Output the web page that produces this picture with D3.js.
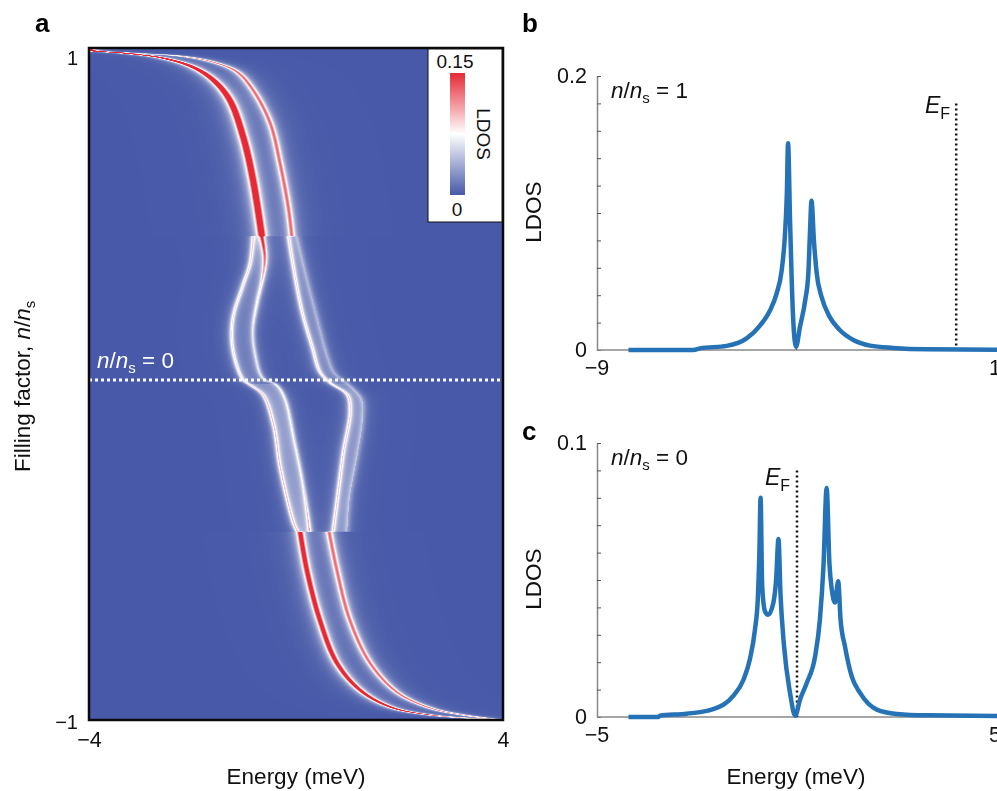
<!DOCTYPE html>
<html>
<head>
<meta charset="utf-8">
<script src="https://cdn.jsdelivr.net/npm/d3@7"></script>
<style>
  html, body { margin: 0; padding: 0; background: #fff; overflow: hidden; }
  #wrap { position: relative; width: 997px; height: 791px; }
  #wrap canvas { position: absolute; left: 89px; top: 48px; filter: blur(0.7px); }
  #wrap svg { position: absolute; left: 0; top: 0; font-family: "Liberation Sans", Arial, sans-serif; }
  .axis-b path { stroke: #888; stroke-width: 1.5; }
  .axis-b line { stroke: #555; }
</style>
</head>
<body>
<div id="wrap"></div>
<script>
// panel a: ridge positions, [filling, energy]
var ridgeTopLeft = [[1, -4.05], [0.994, -4], [0.985, -3.34], [0.97, -2.57], [0.943, -1.99], [0.905, -1.6], [0.845, -1.28], [0.735, -1.02], [0.607, -0.83], [0.44, -0.66]];
var ridgeTopRight = [[1, -4.05], [0.994, -4], [0.985, -3.21], [0.976, -2.24], [0.958, -1.6], [0.929, -1.14], [0.875, -0.83], [0.777, -0.5], [0.658, -0.31], [0.527, -0.15], [0.44, -0.08]];
var ridgeMidA = [[0.44, -0.83], [0.36, -0.89], [0.289, -1.04], [0.199, -1.22], [0.122, -1.24], [0.051, -1.14], [0.012, -1.02], [-0.003, -0.89], [-0.033, -0.64], [-0.122, -0.44], [-0.25, -0.31], [-0.411, -0.06], [-0.44, 0.02]];
var ridgeMidB = [[0.44, -0.66], [0.378, -0.6], [0.318, -0.64], [0.241, -0.75], [0.161, -0.83], [0.092, -0.79], [0.018, -0.64], [-0.003, -0.37], [-0.042, -0.21], [-0.173, -0.02], [-0.28, 0.12], [-0.39, 0.23], [-0.44, 0.27]];
var ridgeMidC = [[0.44, -0.15], [0.318, -0.02], [0.211, 0.12], [0.11, 0.31], [0.036, 0.46], [0.003, 0.66], [-0.033, 0.99], [-0.083, 1.04], [-0.202, 0.91], [-0.321, 0.81], [-0.44, 0.71]];
var ridgeMidD = [[0.44, 0.02], [0.318, 0.21], [0.199, 0.41], [0.08, 0.62], [0.033, 0.75], [-0.012, 1.1], [-0.048, 1.28], [-0.107, 1.29], [-0.202, 1.2], [-0.339, 1.04], [-0.44, 0.99]];
var ridgeBottomLeft = [[-0.44, 0.08], [-0.554, 0.21], [-0.702, 0.46], [-0.83, 0.79], [-0.911, 1.24], [-0.961, 1.82], [-0.985, 2.59], [-1, 4]];
var ridgeBottomRight = [[-0.44, 0.64], [-0.554, 0.79], [-0.702, 1.04], [-0.83, 1.43], [-0.917, 1.95], [-0.964, 2.59], [-0.985, 3.23], [-1, 4]];
// peak height along ridge B, it runs pink near the edges of the middle section
var midBPeak = [[0.44, 0.14], [0.3, 0.07], [0.15, 0.052], [-0.3, 0.052], [-0.44, 0.075]];

// panel b
var energyB = [-8.21, -6.58, -6.41, -5.74, -5.24, -4.9, -4.65, -4.49, -4.36, -4.28, -4.23, -4.2, -4.15, -4.11, -4.07, -4, -3.9, -3.77, -3.69, -3.65, -3.61, -3.55, -3.48, -3.36, -3.15, -2.9, -2.56, -2.14, -1.55, -0.72, 1.05];
var ldosB = [0, 0, 0.0012, 0.003, 0.0085, 0.018, 0.029, 0.041, 0.058, 0.083, 0.114, 0.151, 0.095, 0.053, 0.022, 0.0024, 0.017, 0.036, 0.056, 0.085, 0.109, 0.08, 0.056, 0.039, 0.024, 0.0146, 0.0073, 0.0032, 0.0015, 0.0005, 0.0002];

// panel c
var energyC = [-4.21, -3.46, -3.42, -2.75, -2.08, -1.57, -1.32, -1.16, -1.03, -0.96, -0.92, -0.89, -0.85, -0.78, -0.7, -0.57, -0.5, -0.44, -0.39, -0.3, -0.15, -0.02, 0.1, 0.27, 0.48, 0.6, 0.69, 0.77, 0.84, 0.9, 0.98, 1.06, 1.12, 1.23, 1.4, 1.61, 2.03, 2.53, 3.28, 5.05];
var ldosC = [0, 0, 0.0005, 0.0012, 0.0029, 0.0078, 0.0136, 0.021, 0.032, 0.043, 0.06, 0.08, 0.048, 0.0386, 0.0373, 0.0416, 0.05, 0.065, 0.045, 0.0258, 0.0088, 0.0005, 0.0063, 0.0124, 0.0221, 0.0355, 0.055, 0.0836, 0.056, 0.0465, 0.0418, 0.0495, 0.0355, 0.0258, 0.0148, 0.0088, 0.0027, 0.0011, 0.0006, 0.0004];

var colorStops = [0, 0.075, 0.15];
var colorValues = ['#4759a8', '#ffffff', '#e52a36'];

var svg = d3.select('#wrap').append('svg').attr('width', 997).attr('height', 791);
var defs = svg.append('defs');

// panel a scales
var xA = d3.scaleLinear().domain([-4, 4]).range([89, 503]);
var yA = d3.scaleLinear().domain([1, -1]).range([48, 720]);
var colorScale = d3.scaleLinear().domain(colorStops).range(colorValues).clamp(true);

// catmull-rom through the read points, sampled so a row can look up its energy
function ridgeFn(points) {
  var ridgeLine = d3.line().curve(d3.curveCatmullRom.alpha(0.5))
    .x(function (d) { return xA(d[1]); })
    .y(function (d) { return yA(d[0]); });
  var path = defs.append('path').attr('d', ridgeLine(points)).node();
  var len = path.getTotalLength();
  var samples = d3.range(0, 1501).map(function (i) {
    var p = path.getPointAtLength(len * i / 1500);
    return [p.y, p.x];
  }).sort(function (a, b) { return a[0] - b[0]; });
  var ys = samples.map(function (s) { return s[0]; });
  return function (n) {
    var py = yA(n);
    var k = Math.max(1, Math.min(samples.length - 1, d3.bisectLeft(ys, py)));
    var a = samples[k - 1], b = samples[k];
    var t = b[0] > a[0] ? (py - a[0]) / (b[0] - a[0]) : 0;
    return xA.invert(a[1] + (b[1] - a[1]) * t);
  };
}

function constPeak(v) { return function () { return v; }; }

var midBScale = d3.scaleLinear().domain(midBPeak.map(function (d) { return d[0]; })).range(midBPeak.map(function (d) { return d[1]; }));

var ridges = [
  { fn: ridgeFn(ridgeTopLeft), lo: 0.44, hi: 1, peak: constPeak(0.25), w: 0.05 },
  { fn: ridgeFn(ridgeTopRight), lo: 0.44, hi: 1, peak: constPeak(0.115), w: 0.055 },
  { fn: ridgeFn(ridgeMidA), lo: -0.44, hi: 0.44, peak: constPeak(0.07), w: 0.042 },
  { fn: ridgeFn(ridgeMidB), lo: -0.44, hi: 0.44, peak: midBScale, w: 0.042 },
  { fn: ridgeFn(ridgeMidC), lo: -0.44, hi: 0.44, peak: constPeak(0.07), w: 0.042 },
  { fn: ridgeFn(ridgeMidD), lo: -0.44, hi: 0.44, peak: constPeak(0.028), w: 0.055 },
  { fn: ridgeFn(ridgeBottomLeft), lo: -1, hi: -0.44, peak: constPeak(0.18), w: 0.05 },
  { fn: ridgeFn(ridgeBottomRight), lo: -1, hi: -0.44, peak: constPeak(0.115), w: 0.055 }
];
// washed out band between the split lines
var bands = [
  { left: ridges[2].fn, right: ridges[3].fn, upper: 0.01, lower: 0.022 },
  { left: ridges[4].fn, right: ridges[5].fn, upper: 0.01, lower: 0.016 }
];

function drawHeatmap() {
  var w = 414, h = 672, sub = 4;
  var canvas = d3.select('#wrap').insert('canvas', 'svg').attr('width', w).attr('height', h).node();
  var ctx = canvas.getContext('2d');
  var img = ctx.createImageData(w, h);
  var lut = d3.range(256).map(function (i) {
    return d3.rgb(colorScale(i / 255 * 0.15));
  });
  var acc = new Float32Array(w);
  for (var row = 0; row < h; row++) {
    acc.fill(0);
    for (var s = 0; s < sub; s++) {
      var n = yA.invert(48 + row + (s + 0.5) / sub);
      ridges.forEach(function (r) {
        if (n < r.lo || n >= r.hi) return;
        var e0 = r.fn(n), a = r.peak(n), w2 = r.w * r.w;
        for (var c = 0; c < w; c++) {
          var de = xA.invert(89 + c + 0.5) - e0;
          // sharp line plus a wider skirt
          acc[c] += a * (w2 / (de * de + w2) + 0.1 * 6 * w2 / (de * de + 6 * w2)) / sub;
        }
      });
      if (Math.abs(n) < 0.44) {
        bands.forEach(function (b) {
          var el = b.left(n), er = b.right(n), lvl = n > 0 ? b.upper : b.lower;
          for (var c = 0; c < w; c++) {
            var e = xA.invert(89 + c + 0.5);
            if (e > el && e < er) acc[c] += lvl / sub;
          }
        });
      }
    }
    for (var c = 0; c < w; c++) {
      var idx = Math.max(0, Math.min(255, Math.round(acc[c] / 0.15 * 255)));
      var col = lut[idx], o = (row * w + c) * 4;
      img.data[o] = col.r;
      img.data[o + 1] = col.g;
      img.data[o + 2] = col.b;
      img.data[o + 3] = 255;
    }
  }
  ctx.putImageData(img, 0, 0);
}
drawHeatmap();

// n/ns = value, reused by all the panels
function fillingLabel(parent, x, y, value, fill) {
  var t = parent.append('text').attr('x', x).attr('y', y).attr('fill', fill).style('font-size', '22.5px');
  t.append('tspan').style('font-style', 'italic').text('n');
  t.append('tspan').text('/');
  t.append('tspan').style('font-style', 'italic').text('n');
  t.append('tspan').attr('dy', 5).style('font-size', '15px').text('s');
  t.append('tspan').attr('dy', -5).text(' = ' + value);
}

function efLabel(parent, x, y) {
  var t = parent.append('text').attr('x', x).attr('y', y).attr('fill', '#111').style('font-size', '23px');
  t.append('tspan').style('font-style', 'italic').text('E');
  t.append('tspan').attr('dy', 6).style('font-size', '16px').text('F');
}

var panelA = svg.append('g');
panelA.append('line').attr('x1', xA(-4)).attr('x2', xA(4)).attr('y1', 380).attr('y2', 380)
  .attr('stroke', '#fff').attr('stroke-width', 3).attr('stroke-dasharray', '3 3');
panelA.append('rect').attr('x', xA(-4)).attr('y', yA(1)).attr('width', xA(4) - xA(-4)).attr('height', yA(-1) - yA(1))
  .attr('fill', 'none').attr('stroke', '#0a0a0a').attr('stroke-width', 2.5);
fillingLabel(panelA, 97, 368, '0', '#fff');

var xAxisA = panelA.append('g').attr('transform', 'translate(0,720)')
  .call(d3.axisBottom(xA).tickValues([-4, 4]).tickSize(0).tickPadding(12));
xAxisA.select('.domain').remove();
xAxisA.selectAll('text').style('font-size', '21.5px').attr('fill', '#111').style('font-family', 'inherit');

var yTicksA = [{ v: 1, y: 65 }, { v: -1, y: 729 }];
panelA.selectAll('.ytick').data(yTicksA).enter().append('text').attr('class', 'ytick')
  .attr('x', 78).attr('y', function (d) { return d.y; }).attr('text-anchor', 'end')
  .style('font-size', '20px').attr('fill', '#111')
  .text(function (d) { return d3.format('d')(d.v); });

panelA.append('text').attr('x', 296).attr('y', 784).attr('text-anchor', 'middle')
  .style('font-size', '22.5px').attr('fill', '#111').text('Energy (meV)');

var fillTitle = panelA.append('text').attr('transform', 'translate(30,472) rotate(-90)')
  .style('font-size', '22.5px').attr('fill', '#111');
fillTitle.append('tspan').text('Filling factor, ');
fillTitle.append('tspan').style('font-style', 'italic').text('n');
fillTitle.append('tspan').text('/');
fillTitle.append('tspan').style('font-style', 'italic').text('n');
fillTitle.append('tspan').attr('dy', 5).style('font-size', '15px').text('s');

// colour bar
var grad = defs.append('linearGradient').attr('id', 'ldosGrad').attr('x1', 0).attr('x2', 0).attr('y1', 1).attr('y2', 0);
colorStops.forEach(function (s, i) {
  grad.append('stop').attr('offset', s / 0.15).attr('stop-color', colorValues[i]);
});
var barG = panelA.append('g');
barG.append('rect').attr('x', 428).attr('y', 49).attr('width', 74).attr('height', 173)
  .attr('fill', '#fff').attr('stroke', '#111').attr('stroke-width', 1);
var yBar = d3.scaleLinear().domain([0, 0.15]).range([195, 73]);
barG.append('rect').attr('x', 450).attr('y', yBar(0.15)).attr('width', 15).attr('height', yBar(0) - yBar(0.15))
  .attr('fill', 'url(#ldosGrad)');
barG.append('text').attr('x', 455).attr('y', 68).attr('text-anchor', 'middle').style('font-size', '19px').attr('fill', '#111').text('0.15');
barG.append('text').attr('x', 457).attr('y', 216).attr('text-anchor', 'middle').style('font-size', '19px').attr('fill', '#111').text('0');
barG.append('text').attr('transform', 'translate(477,134) rotate(90)').attr('text-anchor', 'middle')
  .style('font-size', '19px').attr('fill', '#111').text('LDOS');

// panels b and c share the same layout
function drawSpectrum(opt) {
  var g = svg.append('g');
  var x = d3.scaleLinear().domain(opt.xDomain).range([597, 995]);
  var y = d3.scaleLinear().domain([0, opt.yMax]).range([opt.bottom, opt.top]);

  g.append('g').attr('class', 'axis-b').attr('transform', 'translate(597,0)')
    .call(d3.axisRight(y).tickValues(d3.range(11).map(function (i) { return opt.yMax * i / 10; })).tickSize(4).tickSizeOuter(0).tickFormat(''));
  var xAxis = g.append('g').attr('class', 'axis-b').attr('transform', 'translate(0,' + opt.bottom + ')')
    .call(d3.axisTop(x).tickValues([(opt.xDomain[0] + opt.xDomain[1]) / 2]).tickSize(4).tickSizeOuter(0).tickFormat(''));
  xAxis.select('.domain').attr('d', 'M597,0H997');

  g.append('text').attr('x', 587).attr('y', opt.top + 7).attr('text-anchor', 'end').style('font-size', '21.5px').attr('fill', '#111').text(opt.yMax);
  g.append('text').attr('x', 587).attr('y', opt.bottom + 7).attr('text-anchor', 'end').style('font-size', '21.5px').attr('fill', '#111').text('0');
  g.selectAll('.xlab').data(opt.xDomain).enter().append('text').attr('class', 'xlab')
    .attr('x', function (d) { return x(d); }).attr('y', opt.bottom + 25).attr('text-anchor', 'middle')
    .style('font-size', '21.5px').attr('fill', '#111').text(function (d) { return d3.format('d')(d); });

  g.append('text').attr('transform', 'translate(541,' + ((opt.top + opt.bottom) / 2 - 1) + ') rotate(-90)').attr('text-anchor', 'middle')
    .style('font-size', '22.5px').attr('fill', '#111').text('LDOS');

  g.append('line').attr('x1', x(0) + 1).attr('x2', x(0) + 1).attr('y1', y(opt.efTop)).attr('y2', opt.bottom)
    .attr('stroke', '#111').attr('stroke-width', 2.5).attr('stroke-dasharray', '2 3');

  var line = d3.line().curve(d3.curveMonotoneX).x(function (d) { return x(d[0]); }).y(function (d) { return y(d[1]); });
  g.append('path').attr('d', line(d3.zip(opt.energy, opt.ldos)))
    .attr('fill', 'none').attr('stroke', '#2573b6').attr('stroke-width', 4.5).attr('stroke-linejoin', 'round');

  fillingLabel(g, 611, opt.top + 22, opt.label, '#111');
  efLabel(g, opt.efX, opt.efY);
}

drawSpectrum({ xDomain: [-9, 1], yMax: 0.2, top: 76, bottom: 350, energy: energyB, ldos: ldosB, label: '1', efTop: 0.18, efX: 925, efY: 113 });
drawSpectrum({ xDomain: [-5, 5], yMax: 0.1, top: 443, bottom: 717, energy: energyC, ldos: ldosC, label: '0', efTop: 0.09, efX: 765, efY: 485 });

svg.append('text').attr('x', 796).attr('y', 784).attr('text-anchor', 'middle')
  .style('font-size', '22.5px').attr('fill', '#111').text('Energy (meV)');

// panel letters
var letters = [{ t: 'a', x: 35, y: 32 }, { t: 'b', x: 522, y: 32 }, { t: 'c', x: 522, y: 440 }];
svg.selectAll('.letter').data(letters).enter().append('text').attr('class', 'letter')
  .attr('x', function (d) { return d.x; }).attr('y', function (d) { return d.y; })
  .style('font-size', '26px').style('font-weight', 'bold').attr('fill', '#000')
  .text(function (d) { return d.t; });
</script>
</body>
</html>
